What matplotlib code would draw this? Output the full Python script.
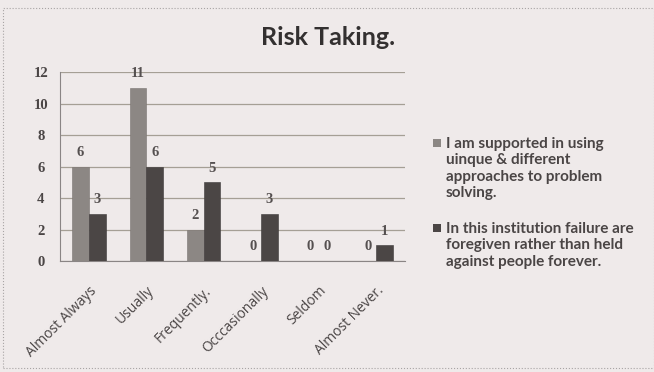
import numpy as np
import matplotlib.pyplot as plt
from matplotlib.patches import Rectangle

categories = ["Almost Always", "Usually", "Frequently.", "Occcasionally", "Seldom", "Almost Never."]
supported = [6, 11, 2, 0, 0, 0]
forgiven = [3, 6, 5, 3, 0, 1]
labels = ["I am supported in using\nuinque & different\napproaches to problem\nsolving.",
          "In this institution failure are\nforegiven rather than held\nagainst people forever."]

bg = "#efeaea"
c_light = "#8c8784"
c_dark = "#4b4645"
txt = "#4a4545"

fig = plt.figure(figsize=(6.54, 3.72), dpi=100, facecolor=bg)
fig.patches.append(Rectangle((0.005, 0.01), 0.995, 0.968, transform=fig.transFigure,
                             fill=False, edgecolor="#a8a4a4", lw=0.8, ls=":"))
ax = fig.add_axes([0.092, 0.298, 0.527, 0.508], facecolor=bg)

x = np.arange(len(categories))
w = 0.29
b1 = ax.bar(x - w / 2, supported, w, color=c_light, edgecolor="#7a7572", lw=0.4, zorder=3)
b2 = ax.bar(x + w / 2, forgiven, w, color=c_dark, edgecolor="#3c3838", lw=0.4, zorder=3)

for bars, vals in ((b1, supported), (b2, forgiven)):
    for r, v in zip(bars, vals):
        ax.text(r.get_x() + r.get_width() / 2, v + 0.5, str(v), ha="center", va="bottom",
                fontsize=10.5, family="Liberation Serif", fontweight="bold", color="#555050", zorder=4)

ax.set_xlim(-0.5, len(categories) - 0.5)
ax.set_ylim(0, 12)
ax.set_yticks(range(0, 13, 2))
ax.yaxis.grid(True, color="#a59f95", lw=0.9, zorder=0)
ax.tick_params(axis="y", length=0, pad=14, labelsize=10.5, colors=txt)
for t in ax.get_yticklabels():
    t.set_family("Liberation Serif")
    t.set_fontweight("bold")
    t.set_horizontalalignment("center")
ax.set_xticks(x)
ax.set_xticklabels(categories, rotation=45, ha="right", rotation_mode="anchor",
                   fontsize=10, family="Open Sans", color=txt)
ax.tick_params(axis="x", length=0, pad=16)
for s in ("top", "right"):
    ax.spines[s].set_visible(False)
ax.spines["left"].set_color("#8a8585")
ax.spines["bottom"].set_color("#8a8585")

fig.text(0.502, 0.898, "Risk Taking.", ha="center", va="center", fontsize=18,
         fontweight="bold", family="Lato", color="#333030")

# legend drawn by hand so the marker sits on the first line
leg_y = [1 - 137 / 372, 1 - 222 / 372]
for lab, col, yy in zip(labels, (c_light, c_dark), leg_y):
    fig.patches.append(Rectangle((433 / 654, yy - 10 / 372), 8 / 654, 8 / 372,
                                 transform=fig.transFigure, facecolor=col, edgecolor="none"))
    fig.text(446 / 654, yy, lab, ha="left", va="top", fontsize=11, fontweight="bold",
             family="Lato", color=txt, linespacing=1.22)

fig.savefig("out.png", dpi=100, facecolor=bg)
